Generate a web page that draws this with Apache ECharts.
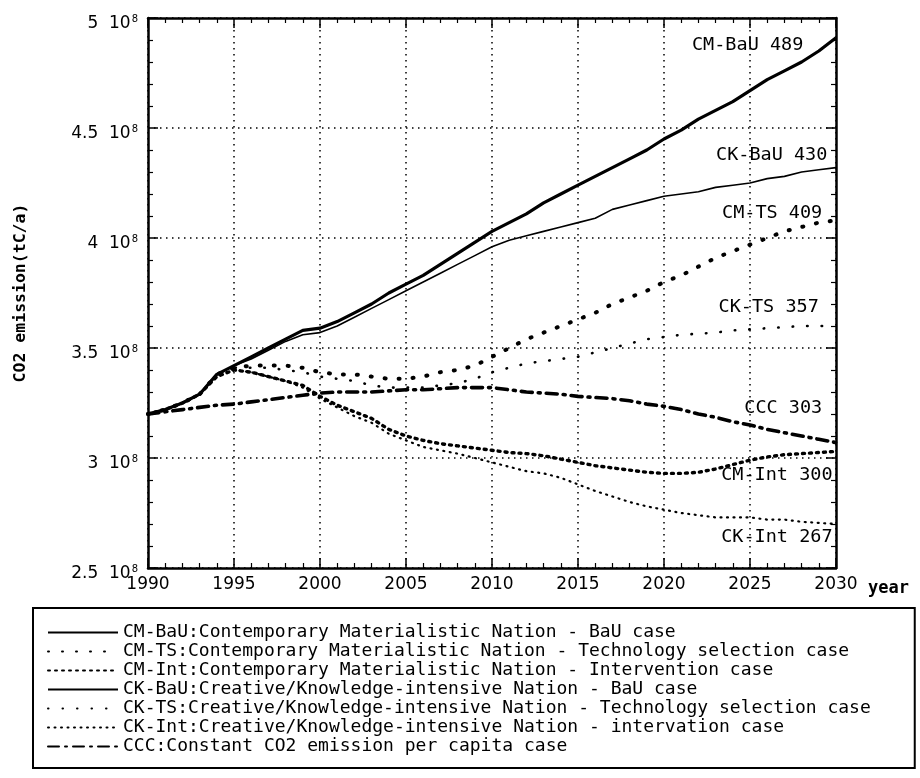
<!DOCTYPE html>
<html>
<head>
<meta charset="utf-8">
<style>
  html, body { margin: 0; padding: 0; background: #fff; }
  #chart { width: 920px; height: 778px; }
</style>
<script src="https://cdn.jsdelivr.net/npm/echarts@6/dist/echarts.min.js"></script>
</head>
<body>
<div id="chart"></div>
<script>
// ---- data (values in units of 10^8 tC/a) ----
const years = [1990,1991,1992,1993,1994,1995,1996,1997,1998,1999,2000,2001,2002,2003,2004,2005,2006,2007,2008,2009,2010,2011,2012,2013,2014,2015,2016,2017,2018,2019,2020,2021,2022,2023,2024,2025,2026,2027,2028,2029,2030];

const cmBaU = [3.20,3.22,3.25,3.29,3.38,3.42,3.46,3.50,3.54,3.58,3.59,3.62,3.66,3.70,3.75,3.79,3.83,3.88,3.93,3.98,4.03,4.07,4.11,4.16,4.20,4.24,4.28,4.32,4.36,4.40,4.45,4.49,4.54,4.58,4.62,4.67,4.72,4.76,4.80,4.85,4.91];
const cmTS  = [3.20,3.22,3.25,3.29,3.38,3.41,3.42,3.42,3.42,3.41,3.39,3.38,3.38,3.37,3.36,3.36,3.37,3.39,3.40,3.42,3.46,3.50,3.54,3.57,3.60,3.63,3.66,3.70,3.73,3.76,3.80,3.83,3.87,3.91,3.94,3.97,4.00,4.03,4.05,4.07,4.08];
const cmInt = [3.20,3.22,3.25,3.29,3.37,3.40,3.39,3.37,3.35,3.33,3.28,3.24,3.21,3.18,3.13,3.10,3.08,3.065,3.055,3.045,3.035,3.025,3.02,3.01,2.995,2.98,2.965,2.955,2.945,2.935,2.93,2.93,2.935,2.95,2.97,2.99,3.005,3.015,3.02,3.025,3.03];
const ckBaU = [3.20,3.22,3.25,3.29,3.38,3.42,3.45,3.49,3.53,3.56,3.57,3.60,3.64,3.68,3.72,3.76,3.80,3.84,3.88,3.92,3.96,3.99,4.01,4.03,4.05,4.07,4.09,4.13,4.15,4.17,4.19,4.20,4.21,4.23,4.24,4.25,4.27,4.28,4.30,4.31,4.32];
const ckTS  = [3.20,3.22,3.25,3.29,3.38,3.41,3.41,3.41,3.40,3.39,3.37,3.36,3.35,3.33,3.32,3.32,3.32,3.33,3.34,3.36,3.39,3.41,3.43,3.44,3.45,3.46,3.48,3.50,3.52,3.54,3.55,3.56,3.565,3.57,3.58,3.585,3.59,3.595,3.60,3.60,3.60];
const ckInt = [3.20,3.22,3.25,3.29,3.37,3.40,3.39,3.37,3.35,3.32,3.27,3.23,3.19,3.16,3.11,3.08,3.05,3.035,3.02,3.00,2.98,2.96,2.94,2.93,2.91,2.88,2.85,2.825,2.80,2.78,2.765,2.75,2.74,2.73,2.73,2.73,2.72,2.72,2.71,2.705,2.70];
const ccc   = [3.20,3.21,3.22,3.23,3.24,3.245,3.255,3.265,3.275,3.285,3.295,3.30,3.30,3.30,3.305,3.31,3.31,3.315,3.32,3.32,3.32,3.31,3.30,3.295,3.29,3.28,3.275,3.27,3.26,3.245,3.235,3.22,3.20,3.185,3.165,3.15,3.13,3.115,3.10,3.085,3.07];

const seriesKeys = ['CM-BaU','CM-TS','CM-Int','CK-BaU','CK-TS','CK-Int','CCC'];
const legendTexts = [
  'CM-BaU:Contemporary Materialistic Nation - BaU case',
  'CM-TS:Contemporary Materialistic Nation - Technology selection case',
  'CM-Int:Contemporary Materialistic Nation - Intervention case',
  'CK-BaU:Creative/Knowledge-intensive Nation - BaU case',
  'CK-TS:Creative/Knowledge-intensive Nation - Technology selection case',
  'CK-Int:Creative/Knowledge-intensive Nation - intervation case',
  'CCC:Constant CO2 emission per capita case'
];
const endValues = [489, 409, 300, 430, 357, 267, 303];
const yTicks = [2.5, 3, 3.5, 4, 4.5, 5];
const xTicks = [1990, 1995, 2000, 2005, 2010, 2015, 2020, 2025, 2030];

// ---- styling / layout ----
const seriesData = [cmBaU, cmTS, cmInt, ckBaU, ckTS, ckInt, ccc];
const lineStyles = [
  { width: 3.2, type: 'solid' },
  { width: 4, type: [1, 13], cap: 'round' },
  { width: 3.4, type: [2, 5], cap: 'round' },
  { width: 1.6, type: 'solid' },
  { width: 2.6, type: [0.5, 14], cap: 'round' },
  { width: 2.2, type: [1, 5.5], cap: 'round' },
  { width: 3.6, type: [11, 6, 2, 6], cap: 'round' }
];
// label anchor (right edge, vertical centre) in data coordinates
const labelAnchors = [
  [2028.1, 4.877], [2029.2, 4.114], [2029.8, 2.923],
  [2029.5, 4.377], [2029.0, 3.686], [2029.8, 2.641], [2029.2, 3.227]
];

const MONO = 'DejaVu Sans Mono';
const SANS = 'DejaVu Sans';

const chart = echarts.init(document.getElementById('chart'), null, { renderer: 'canvas' });

function pairs(arr) { return years.map((y, i) => [y, arr[i]]); }

const series = seriesKeys.map((k, i) => ({
  name: legendTexts[i],
  type: 'line',
  xAxisIndex: 0,
  yAxisIndex: 0,
  data: pairs(seriesData[i]),
  showSymbol: false,
  symbol: 'none',
  smooth: false,
  lineStyle: Object.assign({ color: '#000' }, lineStyles[i]),
  itemStyle: { color: '#000' },
  emphasis: { disabled: true },
  z: 5,
  markPoint: {
    symbol: 'rect',
    symbolSize: 0,
    silent: true,
    data: [{ coord: labelAnchors[i], value: endValues[i] }],
    label: {
      show: true,
      position: 'left',
      distance: 0,
      formatter: () => k + ' ' + endValues[i],
      color: '#000',
      fontFamily: MONO,
      fontSize: 18.5,
      backgroundColor: 'transparent'
    }
  }
}));

const commonTick = {
  show: true, inside: true, length: 10, lineStyle: { color: '#000', width: 1.5 }
};
const commonMinor = {
  show: true, splitNumber: 5, length: 5, lineStyle: { color: '#000', width: 1.2 }
};

const option = {
  animation: false,
  backgroundColor: '#fff',
  grid: { left: 148, right: 84, top: 18, bottom: 210, containLabel: false },
  xAxis: [
    {
      type: 'value', min: 1990, max: 2030, interval: 5,
      name: 'year', nameLocation: 'end', nameGap: 32,
      nameTextStyle: { color: '#000', fontFamily: MONO, fontSize: 17, fontWeight: 'bold', verticalAlign: 'top', padding: [12, 0, 0, 0] },
      axisLine: { show: true, onZero: false, lineStyle: { color: '#000', width: 2.5 } },
      axisTick: commonTick,
      minorTick: commonMinor,
      axisLabel: {
        color: '#000', fontFamily: SANS, fontSize: 17, margin: 8,
        formatter: v => (xTicks.indexOf(v) >= 0 ? String(v) : '')
      },
      splitLine: { show: true, lineStyle: { color: '#000', width: 1.5, type: [1.5, 4.5] } },
      minorSplitLine: { show: false }
    },
    {
      type: 'value', min: 1990, max: 2030, interval: 5, position: 'top',
      axisLine: { show: true, onZero: false, lineStyle: { color: '#000', width: 2.5 } },
      axisTick: commonTick, minorTick: commonMinor,
      axisLabel: { show: false }, splitLine: { show: false }
    }
  ],
  yAxis: [
    {
      type: 'value', min: 2.5, max: 5, interval: 0.5,
      name: 'CO2 emission(tC/a)', nameLocation: 'middle', nameGap: 119, nameRotate: 90,
      nameTextStyle: { color: '#000', fontFamily: MONO, fontSize: 16.5, fontWeight: 'bold' },
      axisLine: { show: true, onZero: false, lineStyle: { color: '#000', width: 2.5 } },
      axisTick: commonTick,
      minorTick: commonMinor,
      axisLabel: {
        margin: 10,
        padding: [12, 0, 0, 0],
        formatter: v => {
          if (yTicks.indexOf(v) < 0) return '';
          const s = Number.isInteger(v) ? String(v) : v.toFixed(1);
          return '{a|' + s + '  10}{s|8}';
        },
        rich: {
          a: { color: '#000', fontFamily: SANS, fontSize: 17 },
          s: { color: '#000', fontFamily: SANS, fontSize: 10, verticalAlign: 'top', padding: [0, 0, 9, 1] }
        }
      },
      splitLine: { show: true, lineStyle: { color: '#000', width: 1.5, type: [1.5, 4.5] } }
    },
    {
      type: 'value', min: 2.5, max: 5, interval: 0.5, position: 'right',
      axisLine: { show: true, onZero: false, lineStyle: { color: '#000', width: 2.5 } },
      axisTick: commonTick, minorTick: commonMinor,
      axisLabel: { show: false }, splitLine: { show: false }
    }
  ],
  legend: {
    show: true,
    orient: 'vertical',
    left: 33,
    top: 608,
    padding: [15, 44, 12, 14],
    itemGap: 0,
    itemWidth: 70,
    itemHeight: 14,
    borderColor: '#000',
    borderWidth: 2,
    backgroundColor: '#fff',
    selectedMode: false,
    data: legendTexts.slice(),
    itemStyle: { opacity: 0, borderWidth: 0 },
    textStyle: { color: '#000', fontFamily: MONO, fontSize: 18, lineHeight: 19 }
  },
  series: series
};

chart.setOption(option);
</script>
</body>
</html>
